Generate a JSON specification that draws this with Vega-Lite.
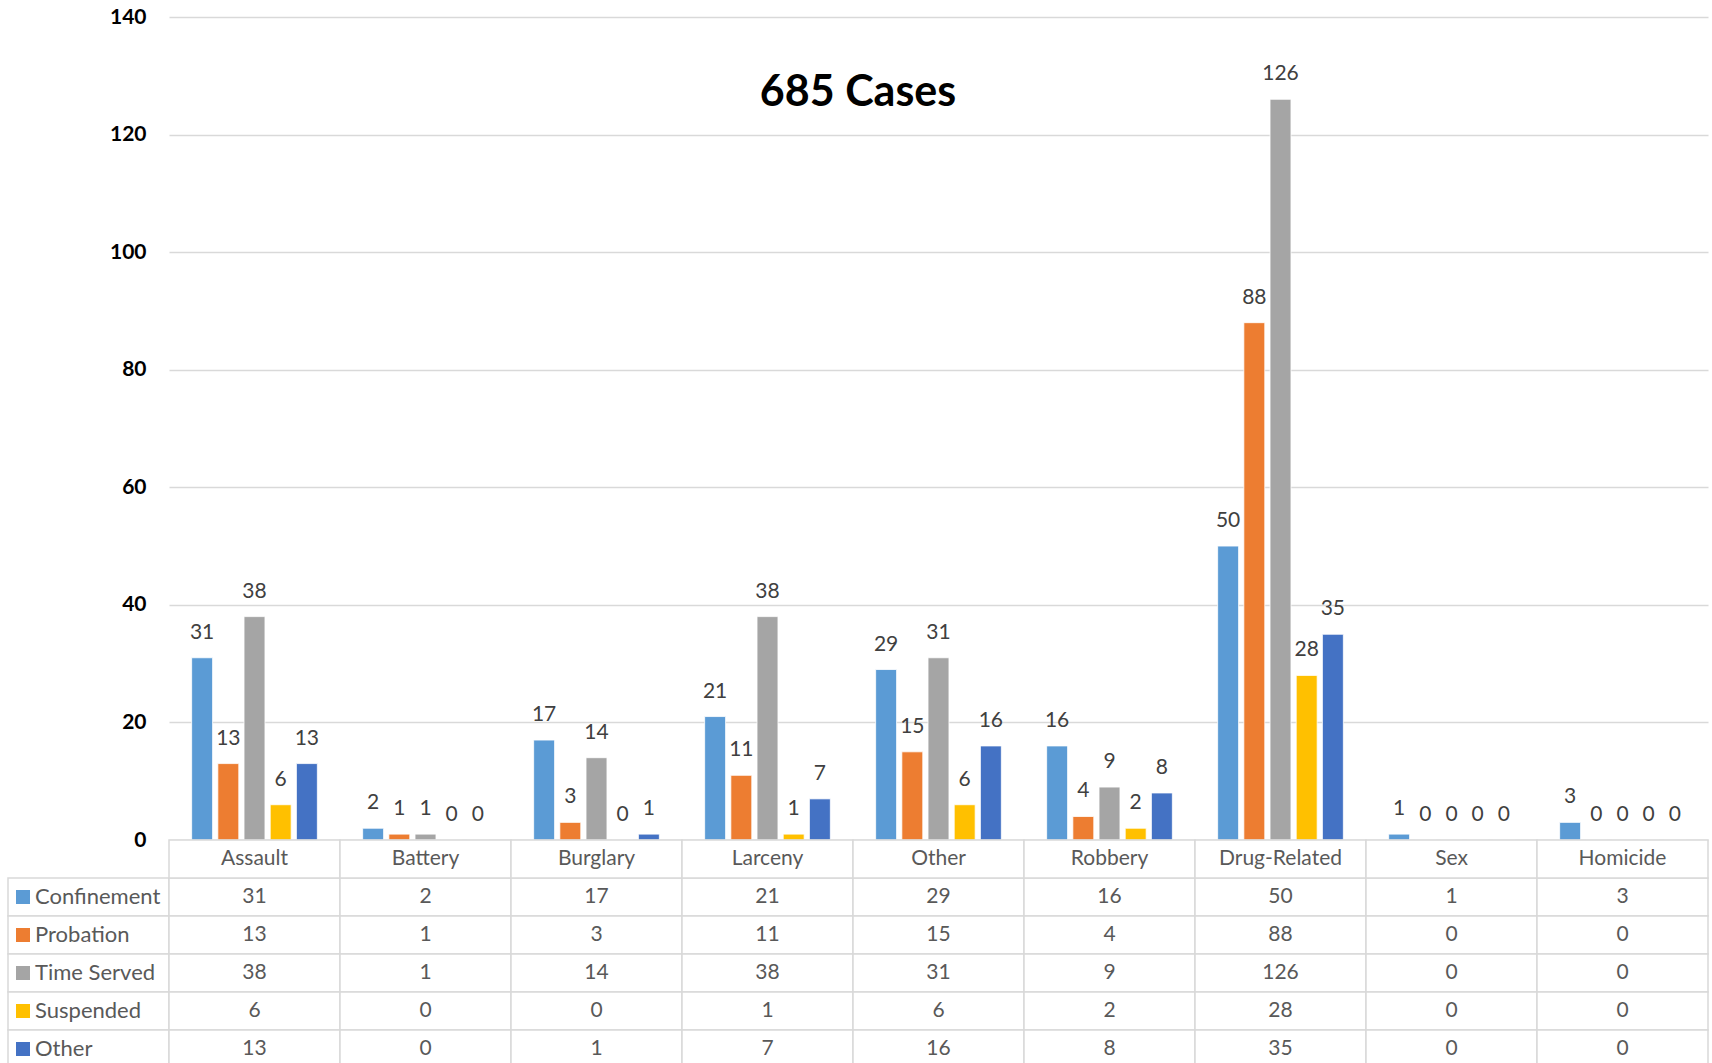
{
  "$schema": "https://vega.github.io/schema/vega-lite/v6.json",
  "padding": {"left": 7, "top": 6, "right": 0, "bottom": 0},
  "autosize": {"type": "pad"},
  "background": "white",
  "config": {"view": {"stroke": null}, "font": "Lato"},
  "title": {"text": "685 Cases", "font": "Lato", "fontSize": 43, "fontWeight": "bold", "color": "black", "anchor": "middle", "frame": "bounds", "offset": -109},
  "datasets": {
    "cases": [
      {"crime": "Assault", "outcome": "Confinement", "n": 31},
      {"crime": "Assault", "outcome": "Probation", "n": 13},
      {"crime": "Assault", "outcome": "Time Served", "n": 38},
      {"crime": "Assault", "outcome": "Suspended", "n": 6},
      {"crime": "Assault", "outcome": "Other", "n": 13},
      {"crime": "Battery", "outcome": "Confinement", "n": 2},
      {"crime": "Battery", "outcome": "Probation", "n": 1},
      {"crime": "Battery", "outcome": "Time Served", "n": 1},
      {"crime": "Battery", "outcome": "Suspended", "n": 0},
      {"crime": "Battery", "outcome": "Other", "n": 0},
      {"crime": "Burglary", "outcome": "Confinement", "n": 17},
      {"crime": "Burglary", "outcome": "Probation", "n": 3},
      {"crime": "Burglary", "outcome": "Time Served", "n": 14},
      {"crime": "Burglary", "outcome": "Suspended", "n": 0},
      {"crime": "Burglary", "outcome": "Other", "n": 1},
      {"crime": "Larceny", "outcome": "Confinement", "n": 21},
      {"crime": "Larceny", "outcome": "Probation", "n": 11},
      {"crime": "Larceny", "outcome": "Time Served", "n": 38},
      {"crime": "Larceny", "outcome": "Suspended", "n": 1},
      {"crime": "Larceny", "outcome": "Other", "n": 7},
      {"crime": "Other", "outcome": "Confinement", "n": 29},
      {"crime": "Other", "outcome": "Probation", "n": 15},
      {"crime": "Other", "outcome": "Time Served", "n": 31},
      {"crime": "Other", "outcome": "Suspended", "n": 6},
      {"crime": "Other", "outcome": "Other", "n": 16},
      {"crime": "Robbery", "outcome": "Confinement", "n": 16},
      {"crime": "Robbery", "outcome": "Probation", "n": 4},
      {"crime": "Robbery", "outcome": "Time Served", "n": 9},
      {"crime": "Robbery", "outcome": "Suspended", "n": 2},
      {"crime": "Robbery", "outcome": "Other", "n": 8},
      {"crime": "Drug-Related", "outcome": "Confinement", "n": 50},
      {"crime": "Drug-Related", "outcome": "Probation", "n": 88},
      {"crime": "Drug-Related", "outcome": "Time Served", "n": 126},
      {"crime": "Drug-Related", "outcome": "Suspended", "n": 28},
      {"crime": "Drug-Related", "outcome": "Other", "n": 35},
      {"crime": "Sex", "outcome": "Confinement", "n": 1},
      {"crime": "Sex", "outcome": "Probation", "n": 0},
      {"crime": "Sex", "outcome": "Time Served", "n": 0},
      {"crime": "Sex", "outcome": "Suspended", "n": 0},
      {"crime": "Sex", "outcome": "Other", "n": 0},
      {"crime": "Homicide", "outcome": "Confinement", "n": 3},
      {"crime": "Homicide", "outcome": "Probation", "n": 0},
      {"crime": "Homicide", "outcome": "Time Served", "n": 0},
      {"crime": "Homicide", "outcome": "Suspended", "n": 0},
      {"crime": "Homicide", "outcome": "Other", "n": 0}
    ],
    "cats": [
      {"crime": "Assault"}, {"crime": "Battery"}, {"crime": "Burglary"}, {"crime": "Larceny"}, {"crime": "Other"},
      {"crime": "Robbery"}, {"crime": "Drug-Related"}, {"crime": "Sex"}, {"crime": "Homicide"}
    ],
    "outcomes": [
      {"outcome": "Confinement"}, {"outcome": "Probation"}, {"outcome": "Time Served"}, {"outcome": "Suspended"}, {"outcome": "Other"}
    ]
  },
  "columns": 2,
  "spacing": 0,
  "bounds": "flush",
  "resolve": {"scale": {"x": "independent", "y": "independent"}},
  "concat": [
    {
      "width": 161, "height": 823,
      "data": {"values": [{"blank": ""}]},
      "mark": {"type": "text", "text": ""},
      "encoding": {}
    },
    {
      "width": 1539, "height": 823,
      "data": {"name": "cases"},
      "encoding": {
        "x": {"field": "crime", "type": "nominal", "sort": ["Assault", "Battery", "Burglary", "Larceny", "Other", "Robbery", "Drug-Related", "Sex", "Homicide"], "scale": {"paddingInner": 0, "paddingOuter": 0}, "axis": null},
        "xOffset": {"field": "outcome", "type": "nominal", "sort": ["Confinement", "Probation", "Time Served", "Suspended", "Other"], "scale": {"paddingInner": 0.2, "paddingOuter": 0.865}},
        "y": {"field": "n", "type": "quantitative", "scale": {"domain": [0, 140], "nice": false},
          "axis": {"title": null, "values": [0, 20, 40, 60, 80, 100, 120, 140], "grid": true, "gridColor": "#d9d9d9", "gridWidth": 1.3, "domain": false, "ticks": false, "tickSize": 0, "labelPadding": 23, "labelFont": "Lato", "labelFontSize": 21, "labelFontWeight": "bold", "labelColor": "black"}},
        "color": {"field": "outcome", "type": "nominal", "scale": {"domain": ["Confinement", "Probation", "Time Served", "Suspended", "Other"], "range": ["#5B9BD5", "#ED7D31", "#A5A5A5", "#FFC000", "#4472C4"]}, "legend": null}
      },
      "layer": [
        {"mark": {"type": "bar", "stroke": "white", "strokeWidth": 0.8}},
        {"mark": {"type": "text", "dy": -25, "baseline": "middle", "align": "center", "fontSize": 21, "font": "Lato"},
         "encoding": {"text": {"field": "n", "type": "quantitative"}, "color": {"value": "#404040"}}}
      ]
    },
    {
      "width": 161, "height": 228,
      "data": {"name": "outcomes"},
      "encoding": {
        "y": {"field": "outcome", "type": "nominal", "scale": {"domain": ["hdr", "Confinement", "Probation", "Time Served", "Suspended", "Other"], "paddingInner": 0, "paddingOuter": 0}, "axis": null}
      },
      "layer": [
        {"mark": {"type": "rect", "fill": "white", "stroke": "#d9d9d9", "strokeWidth": 1.5},
         "encoding": {"x": {"datum": 0, "type": "quantitative", "scale": {"domain": [0, 1]}, "axis": null}, "x2": {"datum": 1}}},
        {"mark": {"type": "point", "shape": "square", "filled": true, "size": 196, "opacity": 1},
         "encoding": {"x": {"datum": 0.093, "type": "quantitative"},
           "color": {"field": "outcome", "type": "nominal", "scale": {"domain": ["Confinement", "Probation", "Time Served", "Suspended", "Other"], "range": ["#5B9BD5", "#ED7D31", "#A5A5A5", "#FFC000", "#4472C4"]}, "legend": null}}},
        {"mark": {"type": "text", "align": "left", "baseline": "middle", "fontSize": 22, "font": "Lato", "color": "#595959"},
         "encoding": {"x": {"datum": 0.168, "type": "quantitative"}, "text": {"field": "outcome", "type": "nominal"}}}
      ]
    },
    {
      "width": 1539, "height": 228,
      "encoding": {
        "x": {"field": "crime", "type": "nominal", "sort": ["Assault", "Battery", "Burglary", "Larceny", "Other", "Robbery", "Drug-Related", "Sex", "Homicide"], "scale": {"paddingInner": 0, "paddingOuter": 0}, "axis": null}
      },
      "layer": [
        {"data": {"name": "cases"},
         "mark": {"type": "rect", "fill": "white", "stroke": "#d9d9d9", "strokeWidth": 1.5},
         "encoding": {"y": {"field": "outcome", "type": "nominal", "scale": {"domain": ["hdr", "Confinement", "Probation", "Time Served", "Suspended", "Other"], "paddingInner": 0, "paddingOuter": 0}, "axis": null}}},
        {"data": {"name": "cats"},
         "mark": {"type": "rect", "fill": "white", "stroke": "#d9d9d9", "strokeWidth": 1.5},
         "encoding": {"y": {"datum": "hdr", "type": "nominal"}}},
        {"data": {"name": "cases"},
         "mark": {"type": "text", "align": "center", "baseline": "middle", "fontSize": 21, "font": "Lato", "color": "#595959"},
         "encoding": {"y": {"field": "outcome", "type": "nominal"}, "text": {"field": "n", "type": "quantitative"}}},
        {"data": {"name": "cats"},
         "mark": {"type": "text", "align": "center", "baseline": "middle", "fontSize": 21, "font": "Lato", "color": "#595959"},
         "encoding": {"y": {"datum": "hdr", "type": "nominal"}, "text": {"field": "crime", "type": "nominal"}}}
      ]
    }
  ]
}
